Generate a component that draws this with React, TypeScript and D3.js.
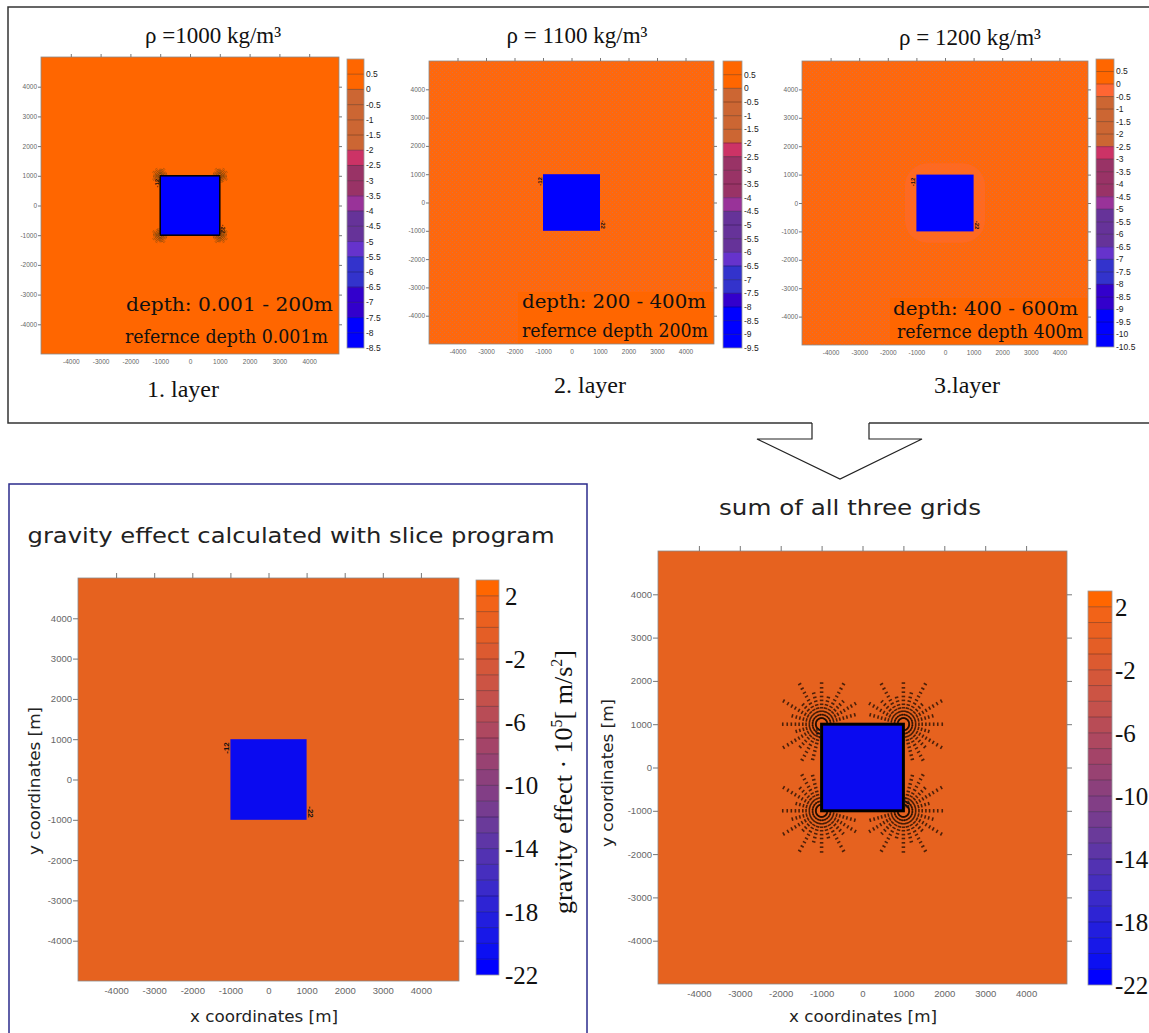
import React, { useRef, useEffect } from 'react';
import * as d3 from 'd3';

// ---- values ---------------------------------------------------------
const gridExtent = [-5000, 5000];
const coordTicks = [-4000, -3000, -2000, -1000, 0, 1000, 2000, 3000, 4000];
const bodyEdges = [-1000, 1000];

const layerTitles = ['ρ =1000 kg/m³', 'ρ = 1100 kg/m³', 'ρ = 1200 kg/m³'];
const layerNames = ['1. layer', '2. layer', '3.layer'];
const layerDepths = ['depth: 0.001  - 200m', 'depth: 200  - 400m', 'depth: 400  - 600m'];
const layerRefDepths = ['refernce depth  0.001m', 'refernce depth  200m', 'refernce depth 400m'];

const layerBarTop = 1;
const layer1Levels = [0.5, 0, -0.5, -1, -1.5, -2, -2.5, -3, -3.5, -4, -4.5, -5, -5.5, -6, -6.5, -7, -7.5, -8, -8.5];
const layer1Colors = ['#ff6600', '#ff6600', '#cc6633', '#cc6633', '#cc6633', '#cc6633', '#cc3366', '#993366', '#993366',
  '#993399', '#663399', '#663399', '#6633cc', '#3333cc', '#3333cc', '#3300cc', '#3300cc', '#0000ff', '#0000ff'];
const layer2Levels = [0.5, 0, -0.5, -1, -1.5, -2, -2.5, -3, -3.5, -4, -4.5, -5, -5.5, -6, -6.5, -7, -7.5, -8, -8.5, -9, -9.5];
const layer2Colors = ['#ff6600', '#ff6600', '#cc6633', '#cc6633', '#cc6633', '#cc6633', '#cc3366', '#993366', '#993366',
  '#993366', '#993399', '#663399', '#663399', '#663399', '#6633cc', '#3333cc', '#3333cc', '#3300cc', '#0000ff', '#0000ff', '#0000ff'];
const layer3Levels = [0.5, 0, -0.5, -1, -1.5, -2, -2.5, -3, -3.5, -4, -4.5, -5, -5.5, -6, -6.5, -7, -7.5, -8, -8.5, -9, -9.5, -10, -10.5];
const layer3Colors = ['#ff6600', '#ff6600', '#ff6633', '#cc6633', '#cc6633', '#cc6633', '#cc6633', '#cc3366', '#993366',
  '#993366', '#993366', '#993399', '#663399', '#663399', '#663399', '#6633cc', '#3333cc', '#3333cc', '#3300cc', '#3300cc',
  '#0000ff', '#0000ff', '#0000ff'];

const sumBarTop = 3;
const sumLevels = [2, 1, 0, -1, -2, -3, -4, -5, -6, -7, -8, -9, -10, -11, -12, -13, -14, -15, -16, -17, -18, -19, -20, -21, -22];
const sumColors = ['#ff6600', '#f26318', '#ea6020', '#e45e26', '#dc5a30', '#d4573a', '#cc5444', '#c4514c', '#b84c56',
  '#ae4860', '#a44468', '#984272', '#8c407c', '#823e86', '#763c90', '#6a3a9a', '#5e36a6', '#5232b2', '#462ebe',
  '#3a2aca', '#2e24d4', '#221ede', '#1818e8', '#0c10f2', '#0000ff'];
const sumLabels = [2, -2, -6, -10, -14, -18, -22];

// contour artefacts around the prism corners (metres from the corner / degrees from the outward diagonal)
const rayOffsets = [-120, -105, -90, -75, -60, -45, -30, -15, 0, 15, 30, 45, 60, 75, 90, 105, 120];
const sumRayReach = [900, 1000, 760, 1080, 700, 950, 780, 1100, 650, 1100, 780, 950, 700, 1080, 760, 1000, 900];
const sumRings = [140, 220, 300, 380, 460, 550, 640, 740, 840, 950, 1070];
const layer1RayReach = [220, 260, 200, 280, 220, 260, 200, 300, 220, 300, 200, 260, 220, 280, 200, 260, 220];
const layer1Rings = [70, 120, 170, 220, 270];

const serif = '"Liberation Serif", "Times New Roman", serif';
const slab = '"DejaVu Serif", serif';
const sans = '"DejaVu Sans", Verdana, sans-serif';
const arial = '"Liberation Sans", Arial, sans-serif';

const topPanels = [
  { left: 41, right: 339, top: 57, bottom: 354, bar: { x: 347, w: 17, top: 59, bottom: 348 }, titleX: 213, titleY: 43,
    nameX: 183, nameY: 397, depthX: 126, depthY: 311, depthW: 207, refX: 125, refY: 343, refW: 203, fill: '#ff6600',
    levels: layer1Levels, colors: layer1Colors },
  { left: 429, right: 714, top: 61, bottom: 344, bar: { x: 723, w: 19, top: 61, bottom: 348 }, titleX: 577, titleY: 43,
    nameX: 590, nameY: 393, depthX: 522, depthY: 308, depthW: 184, refX: 522, refY: 337, refW: 186, fill: 'url(#speckle)',
    plate: [518, 292], levels: layer2Levels, colors: layer2Colors },
  { left: 802, right: 1088, top: 61, bottom: 345, bar: { x: 1096, w: 18, top: 59, bottom: 347 }, titleX: 970, titleY: 45,
    nameX: 967, nameY: 393, depthX: 893, depthY: 315, depthW: 185, refX: 897, refY: 338, refW: 186, fill: 'url(#speckle)',
    plate: [890, 298], halo: true, levels: layer3Levels, colors: layer3Colors },
];

const App = () => {
  const ref = useRef<SVGSVGElement>(null);

  useEffect(() => {
    const svg = d3.select(ref.current);
    svg.selectAll('*').remove();

    const defs = svg.append('defs');
    const pat = defs.append('pattern').attr('id', 'speckle').attr('width', 4).attr('height', 4)
      .attr('patternUnits', 'userSpaceOnUse');
    pat.append('rect').attr('width', 4).attr('height', 4).attr('fill', '#ff680c');
    pat.append('rect').attr('x', 0).attr('y', 0).attr('width', 1).attr('height', 1).attr('fill', '#d97040');
    pat.append('rect').attr('x', 2).attr('y', 2).attr('width', 1).attr('height', 1).attr('fill', '#e86c30');

    const corners = bodyEdges.flatMap(cx => bodyEdges.map(cy => [cx, cy]));

    const drawMap = (c: any) => {
      const x = d3.scaleLinear().domain(gridExtent).range([c.left, c.right]);
      const y = d3.scaleLinear().domain(gridExtent).range([c.bottom, c.top]);
      const g = svg.append('g');
      g.append('rect').attr('x', c.left).attr('y', c.top).attr('width', c.right - c.left)
        .attr('height', c.bottom - c.top).attr('fill', c.fill);

      if (c.halo) {
        const pad = 400;
        g.append('rect').attr('x', x(bodyEdges[0] - pad)).attr('y', y(bodyEdges[1] + pad))
          .attr('width', x(bodyEdges[1] + pad) - x(bodyEdges[0] - pad))
          .attr('height', y(bodyEdges[0] - pad) - y(bodyEdges[1] + pad))
          .attr('rx', (x(pad) - x(0)) * 2).attr('fill', '#ff6a30').attr('opacity', 0.55);
      }

      if (c.rays) {
        corners.forEach(([cx, cy]) => {
          const base = Math.atan2(cy, cx);
          rayOffsets.forEach((off, i) => {
            const a = base + off * Math.PI / 180;
            c.rings.filter((r: number) => r <= c.reach[i]).forEach((r: number) => {
              const px = x(cx + r * Math.cos(a));
              const py = y(cy + r * Math.sin(a));
              const tx = -Math.sin(a), ty = -Math.cos(a);
              const len = c.dash;
              g.append('line').attr('x1', px - tx * len / 2).attr('y1', py - ty * len / 2)
                .attr('x2', px + tx * len / 2).attr('y2', py + ty * len / 2)
                .attr('stroke', c.rayColor).attr('stroke-width', c.rayWidth).attr('opacity', c.rayOpacity);
            });
          });
          c.rings.slice(0, 3).forEach((r: number) => {
            g.append('circle').attr('cx', x(cx)).attr('cy', y(cy)).attr('r', x(r) - x(0))
              .attr('fill', 'none').attr('stroke', c.rayColor).attr('stroke-width', 0.5)
              .attr('stroke-dasharray', '1.5,2.5').attr('opacity', c.rayOpacity * 0.5);
          });
        });
      }

      if (c.plate) {
        g.append('rect').attr('x', c.plate[0]).attr('y', c.plate[1]).attr('width', c.right - c.plate[0])
          .attr('height', c.bottom - c.plate[1]).attr('fill', '#ff6600');
      }

      g.append('rect').attr('x', x(bodyEdges[0])).attr('y', y(bodyEdges[1]))
        .attr('width', x(bodyEdges[1]) - x(bodyEdges[0])).attr('height', y(bodyEdges[0]) - y(bodyEdges[1]))
        .attr('fill', c.bodyFill).attr('stroke', c.bodyStroke).attr('stroke-width', c.bodyStrokeWidth);

      // small contour labels sitting on the corners
      g.append('text').attr('x', x(bodyEdges[0]) - 1).attr('y', y(bodyEdges[1]) + 3)
        .attr('transform', `rotate(-90 ${x(bodyEdges[0]) - 1} ${y(bodyEdges[1]) + 3})`)
        .attr('text-anchor', 'end').attr('font-family', arial).attr('font-weight', 'bold')
        .attr('font-size', c.markFont).attr('fill', '#111').text('-12');
      g.append('text').attr('x', x(bodyEdges[1]) + 1).attr('y', y(bodyEdges[0]) - 2)
        .attr('transform', `rotate(90 ${x(bodyEdges[1]) + 1} ${y(bodyEdges[0]) - 2})`)
        .attr('text-anchor', 'end').attr('font-family', arial).attr('font-weight', 'bold')
        .attr('font-size', c.markFont).attr('fill', '#111').text('-22');

      g.append('rect').attr('x', c.left).attr('y', c.top).attr('width', c.right - c.left)
        .attr('height', c.bottom - c.top).attr('fill', 'none').attr('stroke', '#8a8a8a').attr('stroke-width', 0.8);

      const style = (a: any) => {
        a.select('.domain').remove();
        a.selectAll('line').attr('stroke', '#777');
        a.selectAll('text').attr('fill', '#666').attr('font-family', arial).attr('font-size', c.tickFont);
      };
      const fmt = (d: any) => String(d);
      g.append('g').attr('transform', `translate(0,${c.top})`)
        .call(d3.axisTop(x).tickValues(coordTicks).tickFormat(() => '').tickSize(c.tickLen)).call(style);
      g.append('g').attr('transform', `translate(${c.right},0)`)
        .call(d3.axisRight(y).tickValues(coordTicks).tickFormat(() => '').tickSize(c.tickLen)).call(style);
      g.append('g').attr('transform', `translate(${c.left},0)`)
        .call(d3.axisLeft(y).tickValues(coordTicks).tickFormat(fmt).tickSize(c.tickLen).tickPadding(1)).call(style);
      g.append('g').attr('transform', `translate(0,${c.bottom})`)
        .call(d3.axisBottom(x).tickValues(coordTicks).tickFormat(fmt).tickSize(0).tickPadding(c.xPad)).call(style);
      return g;
    };

    const drawBar = (b: any, top: number, levels: number[], colors: string[], labels: number[], lab: any) => {
      const s = d3.scaleLinear().domain([top, levels[levels.length - 1]]).range([b.top, b.bottom]);
      const g = svg.append('g');
      levels.forEach((lv, i) => {
        const y0 = s(i === 0 ? top : levels[i - 1]);
        g.append('rect').attr('x', b.x).attr('y', y0).attr('width', b.w).attr('height', s(lv) - y0)
          .attr('fill', colors[i]);
      });
      levels.slice(0, -1).forEach((lv, i) => {
        g.append('line').attr('x1', b.x).attr('x2', b.x + b.w).attr('y1', s(lv)).attr('y2', s(lv))
          .attr('stroke', d3.color(colors[i + 1])!.darker(1.2).formatHex()).attr('stroke-width', 0.8);
      });
      g.append('rect').attr('x', b.x).attr('y', b.top).attr('width', b.w).attr('height', b.bottom - b.top)
        .attr('fill', 'none').attr('stroke', '#999').attr('stroke-width', 0.8);
      g.selectAll('text.lab').data(labels).join('text').attr('class', 'lab')
        .attr('x', b.x + b.w + lab.dx).attr('y', d => s(d)).attr('dy', '0.35em')
        .attr('font-family', lab.font).attr('font-size', lab.size).attr('fill', lab.fill)
        .attr('font-weight', lab.weight || 'normal').text(d => String(d));
    };

    // ---- top row: three layers -------------------------------------
    topPanels.forEach((p, i) => {
      drawMap({ ...p, bodyFill: '#0000ff', bodyStroke: i === 0 ? '#000' : 'none', bodyStrokeWidth: i === 0 ? 1.5 : 0,
        tickFont: 6.5, tickLen: 3, xPad: 5, markFont: 6,
        rays: i === 0, rings: layer1Rings, reach: layer1RayReach, dash: 2.5, rayColor: '#7a4a10', rayWidth: 1, rayOpacity: 0.5 });
      drawBar(p.bar, layerBarTop, p.levels, p.colors, p.levels, { dx: 2, font: arial, size: 8.5, fill: '#222' });
      svg.append('text').attr('x', p.titleX).attr('y', p.titleY).attr('text-anchor', 'middle')
        .attr('font-family', serif).attr('font-size', 23).attr('fill', '#111').text(layerTitles[i]);
      svg.append('text').attr('x', p.nameX).attr('y', p.nameY).attr('text-anchor', 'middle')
        .attr('font-family', serif).attr('font-size', 24).attr('fill', '#111').text(layerNames[i]);
      svg.append('text').attr('x', p.depthX).attr('y', p.depthY).attr('font-family', slab).attr('font-size', 19)
        .attr('textLength', p.depthW).attr('lengthAdjust', 'spacingAndGlyphs').attr('fill', '#111').text(layerDepths[i]);
      svg.append('text').attr('x', p.refX).attr('y', p.refY).attr('font-family', slab).attr('font-size', 19)
        .attr('textLength', p.refW).attr('lengthAdjust', 'spacingAndGlyphs').attr('fill', '#111').text(layerRefDepths[i]);
    });

    // frame of the top row with the arrow cut into its lower edge
    svg.append('path').attr('d', 'M1160,7 H8 V423 H812').attr('fill', 'none').attr('stroke', '#333').attr('stroke-width', 1.5);
    svg.append('path').attr('d', 'M869,423 H1160').attr('fill', 'none').attr('stroke', '#333').attr('stroke-width', 1.5);
    svg.append('path').attr('d', 'M812,423 V439 H757 L840,479 L922,439 H869 V423')
      .attr('fill', '#fff').attr('stroke', '#222').attr('stroke-width', 1.2);

    // ---- bottom row -------------------------------------------------
    svg.append('rect').attr('x', 9).attr('y', 484).attr('width', 578).attr('height', 600)
      .attr('fill', 'none').attr('stroke', '#2b2b8c').attr('stroke-width', 1.5);
    const bottomPanels = [
      { left: 78, right: 459, top: 578, bottom: 981, bar: { x: 476, w: 23, top: 580, bottom: 975 }, labX: 505,
        title: 'gravity effect calculated with slice program', titleX: 291, titleY: 543, titleW: 527,
        ylabX: 34, ylabY: 781, xlabX: 264, stroke: 'none', strokeW: 0, rays: false, cbTitle: true },
      { left: 658, right: 1067, top: 551, bottom: 984, bar: { x: 1088, w: 24, top: 591, bottom: 985 }, labX: 1115,
        title: 'sum of all three grids', titleX: 850, titleY: 515, titleW: 262,
        ylabX: 607, ylabY: 773, xlabX: 863, stroke: '#000', strokeW: 3, rays: true, cbTitle: false },
    ];
    bottomPanels.forEach(p => {
      drawMap({ ...p, fill: '#e6621f', bodyFill: '#0a0af0', bodyStroke: p.stroke, bodyStrokeWidth: p.strokeW,
        tickFont: 9.5, tickLen: 5, xPad: 6, markFont: 8,
        rings: sumRings, reach: sumRayReach, dash: 3.5, rayColor: '#1a0a00', rayWidth: 1.6, rayOpacity: 0.75 });
      drawBar(p.bar, sumBarTop, sumLevels, sumColors, sumLabels,
        { dx: p.labX - p.bar.x - p.bar.w, font: serif, size: 25, fill: '#111' });
      svg.append('text').attr('x', p.titleX).attr('y', p.titleY).attr('text-anchor', 'middle')
        .attr('font-family', sans).attr('font-size', 22).attr('textLength', p.titleW)
        .attr('lengthAdjust', 'spacingAndGlyphs').attr('fill', '#222').text(p.title);
      svg.append('text').attr('x', p.ylabX).attr('y', p.ylabY).attr('text-anchor', 'middle').attr('dy', '0.35em')
        .attr('transform', `rotate(-90 ${p.ylabX} ${p.ylabY})`).attr('font-family', sans).attr('font-size', 16)
        .attr('textLength', 148).attr('lengthAdjust', 'spacingAndGlyphs').attr('fill', '#222').text('y coordinates [m]');
      svg.append('text').attr('x', p.xlabX).attr('y', 1022).attr('text-anchor', 'middle')
        .attr('font-family', sans).attr('font-size', 16).attr('textLength', 148)
        .attr('lengthAdjust', 'spacingAndGlyphs').attr('fill', '#222').text('x coordinates [m]');
      if (p.cbTitle) {
        const t = svg.append('text').attr('x', 563).attr('y', 782).attr('text-anchor', 'middle').attr('dy', '0.35em')
          .attr('transform', 'rotate(-90 563 782)').attr('font-family', serif).attr('font-size', 26).attr('fill', '#111');
        t.append('tspan').text('gravity effect · 10');
        t.append('tspan').attr('dy', -10).attr('font-size', 16).text('5');
        t.append('tspan').attr('dy', 10).text('[ m/s');
        t.append('tspan').attr('dy', -10).attr('font-size', 16).text('2');
        t.append('tspan').attr('dy', 10).text(']');
      }
    });
  }, []);

  return (
    <svg ref={ref} width={1149} height={1033}
      style={{ position: 'absolute', left: 0, top: 0, background: '#fff' }} />
  );
};

export default App;
